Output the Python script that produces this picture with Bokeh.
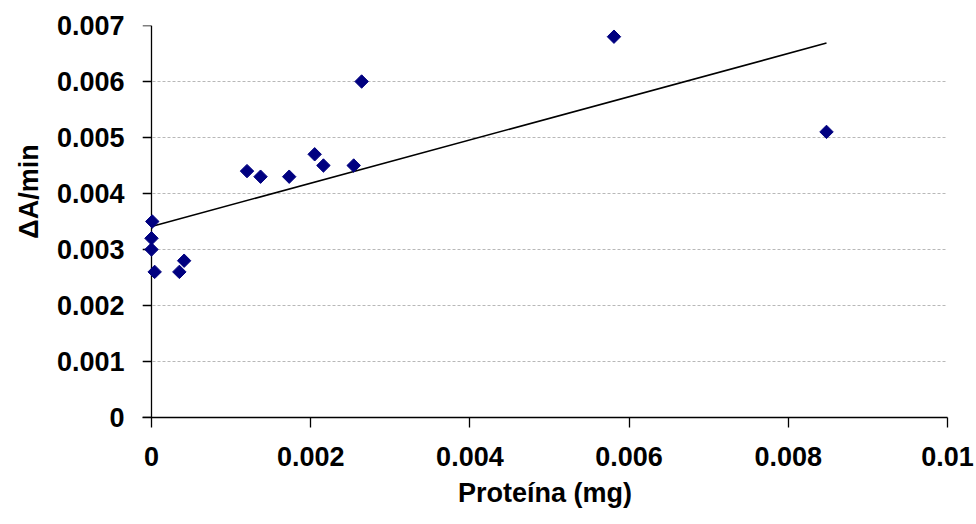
import numpy as np
from bokeh.plotting import figure
from bokeh.models import Range1d, FixedTicker, ColumnDataSource, Title
from bokeh.embed import file_html
from bokeh.resources import INLINE

# Data
protein_mg = [0.00001, 0.0, 0.0, 0.00004, 0.00035, 0.00041, 0.00120, 0.00137,
              0.00173, 0.00205, 0.00216, 0.00254, 0.00264, 0.00581, 0.00848]
delta_a_min = [0.0035, 0.0032, 0.0030, 0.0026, 0.0026, 0.0028, 0.0044, 0.0043,
               0.0043, 0.0047, 0.0045, 0.0045, 0.0060, 0.0068, 0.0051]

x_ticks = [0, 0.002, 0.004, 0.006, 0.008, 0.01]
x_tick_labels = ["0", "0.002", "0.004", "0.006", "0.008", "0.01"]
y_ticks = [0, 0.001, 0.002, 0.003, 0.004, 0.005, 0.006, 0.007]
y_tick_labels = ["0", "0.001", "0.002", "0.003", "0.004", "0.005", "0.006", "0.007"]

x_title = "Proteína (mg)"
y_title = "ΔA/min"

FONT = "Liberation Sans"

# linear trend line (least squares) from the data
slope, intercept = np.polyfit(protein_mg, delta_a_min, 1)
trend_x = [min(protein_mg), max(protein_mg)]
trend_y = [slope * v + intercept for v in trend_x]

# small room left of x = 0 (the y-axis tick length) so markers on the axis are not clipped
x_start = -0.000113

p = figure(width=976, height=524, output_backend="svg", toolbar_location=None,
           x_range=Range1d(x_start, 0.01), y_range=Range1d(0, 0.007),
           min_border_left=142, min_border_right=29, min_border_top=25,
           min_border_bottom=107)
p.outline_line_color = None
p.background_fill_color = "white"
p.border_fill_color = "white"

p.xaxis.ticker = FixedTicker(ticks=x_ticks)
p.yaxis.ticker = FixedTicker(ticks=y_ticks)
p.xaxis.major_label_overrides = dict(zip(x_ticks, x_tick_labels))
p.yaxis.major_label_overrides = dict(zip(y_ticks, y_tick_labels))

for ax in (p.xaxis[0], p.yaxis[0]):
    ax.axis_line_color = "black"
    ax.axis_line_width = 1.3
    ax.major_tick_line_color = "black"
    ax.major_tick_line_width = 1.3
    ax.major_tick_out = 10
    ax.major_tick_in = 0
    ax.minor_tick_line_color = None
    ax.major_label_text_font = FONT
    ax.major_label_text_font_style = "bold"
    ax.major_label_text_font_size = "27px"
    ax.major_label_text_color = "black"

p.xaxis.major_label_standoff = 19

# y axis: labels from the axis; its line and ticks are drawn at x = 0 below
p.yaxis.axis_line_color = None
p.yaxis.major_tick_line_color = None
p.yaxis.major_tick_out = 0
p.yaxis.major_label_standoff = 18

p.xaxis.axis_label = x_title
p.xaxis.axis_label_text_font = FONT
p.xaxis.axis_label_text_font_style = "bold"
p.xaxis.axis_label_text_font_size = "27px"
p.xaxis.axis_label_text_color = "black"
p.xaxis.axis_label_standoff = 9

NB = "\u00a0"
p.add_layout(Title(text=NB * 8 + y_title, align="center", standoff=20,
                   text_font=FONT, text_font_style="bold",
                   text_font_size="27px", text_color="black"), "left")

p.xgrid.grid_line_color = None
p.ygrid.ticker = FixedTicker(ticks=y_ticks)
p.ygrid.grid_line_color = "#b8b8b8"
p.ygrid.grid_line_dash = "3 2"
p.ygrid.grid_line_width = 1

# y axis line and outward ticks at x = 0
p.segment(x0=[0], y0=[y_ticks[0]], x1=[0], y1=[y_ticks[-1]],
          line_color="black", line_width=1.3)
p.segment(x0=[x_start] * len(y_ticks), y0=y_ticks, x1=[0] * len(y_ticks), y1=y_ticks,
          line_color="black", line_width=1.3)

p.line(trend_x, trend_y, line_color="black", line_width=1.6)

src = ColumnDataSource(dict(x=protein_mg, y=delta_a_min))
p.scatter("x", "y", source=src, marker="square", angle=np.pi / 4, size=9.5,
          fill_color="#000080", line_color="#000080")

open("out.html", "w").write(file_html(p, INLINE))
